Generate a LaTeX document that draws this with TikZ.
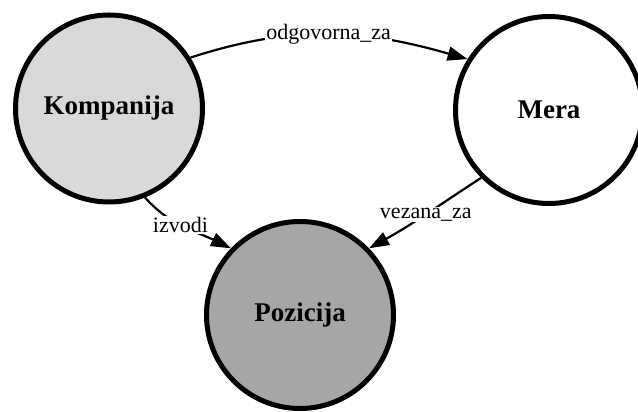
\documentclass[tikz,border=0pt]{standalone}
\usepackage{fontspec}
\setmainfont{Liberation Serif}
\usetikzlibrary{arrows.meta}
\definecolor{konefill}{HTML}{D9D9D9}
\definecolor{pozfill}{HTML}{A6A6A6}
\tikzset{
  entity/.style={circle, draw=black, line width=5pt, minimum size=187pt, inner sep=0pt,
    font=\fontsize{27}{30}\selectfont\bfseries},
  rel/.style={line width=2.2pt, -{Triangle[length=20pt,width=14pt]}},
  lbl/.style={fill=white, inner sep=1pt, font=\fontsize{22}{24}\selectfont}
}
\begin{document}
\begin{tikzpicture}[x=1pt,y=1pt]
  \path[use as bounding box] (0,0) rectangle (638,412);

  % entities
  \node[entity, fill=konefill] (komp) at (109,303.5) {Kompanija};
  \node[entity, fill=white]    (mera) at (549,302)   {Mera};
  \node[entity, fill=pozfill]  (poz)  at (300,97)    {Pozicija};

  % relationships
  \draw[rel] (komp.32) to[out=18,in=164] node[lbl, pos=0.5] {odgovorna\_za} (mera.148);
  \draw[rel] (komp.-68) to[out=-48,in=154] node[lbl, pos=0.45] {izvodi} (poz.136);
  \draw[rel] (mera.225) to[out=213,in=29] node[lbl, pos=0.5] {vezana\_za} (poz.44);
\end{tikzpicture}
\end{document}
